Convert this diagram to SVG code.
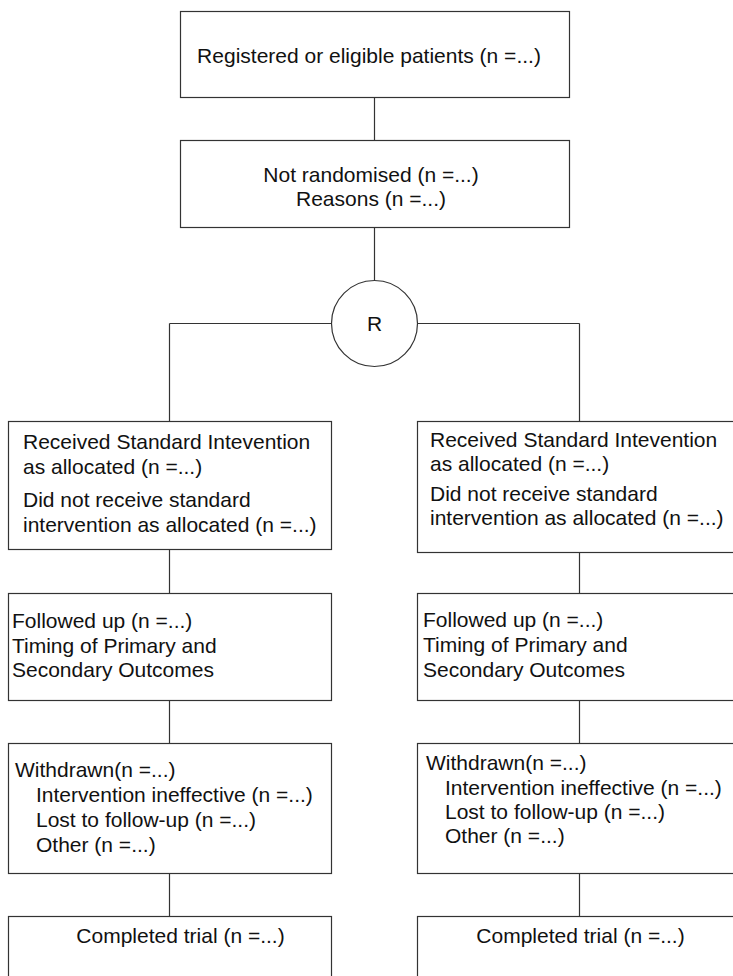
<svg xmlns="http://www.w3.org/2000/svg" width="733" height="976" viewBox="0 0 733 976">
<style>
.box{fill:#fff;stroke:#333;stroke-width:1.2}
.ln{stroke:#333;stroke-width:1.2;fill:none}
text{font-family:"Liberation Sans",Arial,sans-serif;font-size:21px;fill:#111}
.c{text-anchor:middle}
</style>
<rect width="733" height="976" fill="#fff"/>
<g id="connectors">
<path class="ln" d="M374.5,97.5V140.5M374.5,227.5V280M169.5,323.5H331.5M417.5,323.5H579.5M169.5,323.5V421.5M579.5,323.5V421.5M169.5,549.5V593.5M579.5,552.5V593.5M169.5,700.5V743.5M579.5,700.5V743.5M169.5,873.5V916.5M579.5,873.5V916.5"/>
</g>
<g id="registered">
<rect class="box" x="180.5" y="11.5" width="389" height="86"/>
<text class="c" x="369" y="63">Registered or eligible patients (n =...)</text>
</g>
<g id="not-randomised">
<rect class="box" x="180.5" y="140.5" width="389" height="87"/>
<text class="c" x="371" y="182">Not randomised (n =...)</text>
<text class="c" x="371" y="206">Reasons (n =...)</text>
</g>
<g id="randomisation">
<circle class="box" cx="374.5" cy="323.5" r="43"/>
<text class="c" x="374.5" y="331">R</text>
</g>
<g id="received-left">
<rect class="box" x="8.5" y="421.5" width="323" height="128"/>
<text x="23" y="449">Received Standard Intevention</text>
<text x="23" y="474">as allocated (n =...)</text>
<text x="23" y="507">Did not receive standard</text>
<text x="23" y="532">intervention as allocated (n =...)</text>
</g>
<g id="received-right">
<rect class="box" x="417.5" y="421.5" width="330" height="131"/>
<text x="430" y="447">Received Standard Intevention</text>
<text x="430" y="471">as allocated (n =...)</text>
<text x="430" y="501">Did not receive standard</text>
<text x="430" y="525">intervention as allocated (n =...)</text>
</g>
<g id="followed-left">
<rect class="box" x="8.5" y="593.5" width="323" height="107"/>
<text x="12" y="628">Followed up (n =...)</text>
<text x="12" y="653">Timing of Primary and</text>
<text x="12" y="677">Secondary Outcomes</text>
</g>
<g id="followed-right">
<rect class="box" x="417.5" y="593.5" width="330" height="107"/>
<text x="423" y="627">Followed up (n =...)</text>
<text x="423" y="652">Timing of Primary and</text>
<text x="423" y="677">Secondary Outcomes</text>
</g>
<g id="withdrawn-left">
<rect class="box" x="8.5" y="743.5" width="323" height="130"/>
<text x="15" y="777">Withdrawn(n =...)</text>
<text x="36" y="802">Intervention ineffective (n =...)</text>
<text x="36" y="827">Lost to follow-up (n =...)</text>
<text x="36" y="852">Other (n =...)</text>
</g>
<g id="withdrawn-right">
<rect class="box" x="417.5" y="743.5" width="330" height="130"/>
<text x="426" y="770">Withdrawn(n =...)</text>
<text x="445" y="795">Intervention ineffective (n =...)</text>
<text x="445" y="819">Lost to follow-up (n =...)</text>
<text x="445" y="843">Other (n =...)</text>
</g>
<g id="completed-left">
<rect class="box" x="8.5" y="916.5" width="323" height="80"/>
<text class="c" x="180.5" y="943">Completed trial (n =...)</text>
</g>
<g id="completed-right">
<rect class="box" x="417.5" y="916.5" width="330" height="80"/>
<text class="c" x="580.5" y="943">Completed trial (n =...)</text>
</g>
</svg>
